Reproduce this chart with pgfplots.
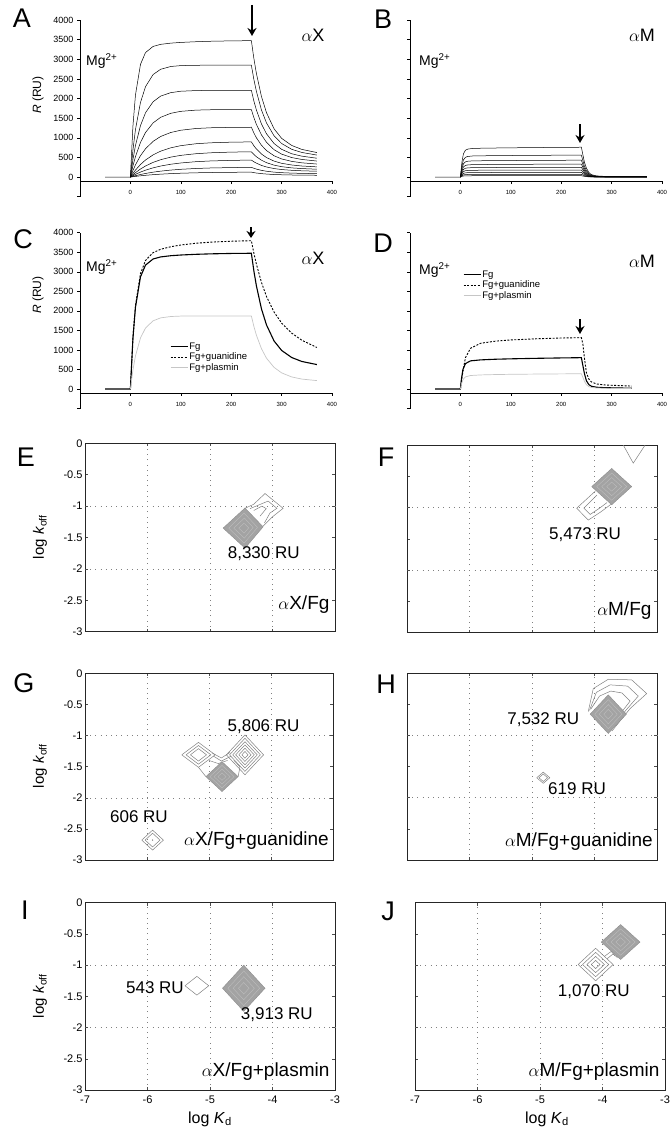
\documentclass[border=0pt]{standalone}
\usepackage{fontspec}
\setmainfont{Liberation Sans}
\usepackage{pgfplots}
\pgfplotsset{compat=1.18}
\usetikzlibrary{arrows.meta}
\newcommand{\fs}[1]{\fontsize{#1}{#1}\selectfont}

\pgfplotsset{
  kin/.style={scale only axis, width=252pt, xmin=-100, xmax=400, ymin=-100, ymax=4000,
    axis x line=bottom, axis y line=left, axis line style={-, line width=0.6pt},
    tick align=outside, major tick length=3pt, tick style={black, line width=0.5pt},
    xtick={0,100,...,400}, ytick={0,500,...,4000},
    x tick label style={font=\fs{6}, yshift=-3pt},
    y tick label style={font=\fs{9}},
    scaled ticks=false, /pgf/number format/1000 sep={},
    /pgf/number format/assume math mode=true, clip=false},
  thin/.style={black, line width=0.5pt},
  ctr/.style={scale only axis, width=250pt, xmin=-7, xmax=-3, ymin=-3, ymax=0,
    xtick={-7,-6,-5,-4,-3}, ytick={-3,-2.5,-2,-1.5,-1,-0.5,0},
    xmajorgrids, extra y ticks={-2,-1}, extra y tick labels={}, extra y tick style={grid=major},
    grid style={gray, line width=0.5pt, dash pattern=on 0.7pt off 4.5pt},
    tick align=inside, major tick length=3pt, tick style={black!70, line width=0.5pt},
    axis line style={line width=0.8pt, black!85},
    tick label style={font=\fs{11}}, xticklabel style={yshift=-2pt}, yticklabel style={xshift=1pt},
    /pgf/number format/assume math mode=true},
  opn/.style={gray, line width=0.5pt},
  gfill/.style={fill=gray!72, draw=gray!90, line width=0.4pt},
  ginner/.style={gray!50, line width=0.35pt},
}

\begin{document}
\begin{tikzpicture}
\useasboundingbox (0,0) rectangle (670pt,-1132pt);

% ---------- A ----------
\begin{axis}[kin, at={(80pt,-181pt)}, anchor=south west, height=161pt]
\addplot[thin] coordinates {(-50,0)(0,0)(5,1294)(10,2086)(20,2871)(30,3171)(45,3327)(60,3380)(80,3411)(100,3429)(130,3447)(160,3459)(200,3469)(240,3474)(245,3019)(250,2640)(260,2053)(270,1640)(285,1230)(300,987)(320,806)(340,705)(370,625)};
\addplot[thin] coordinates {(0,0)(5,684)(10,1206)(20,1901)(30,2303)(45,2611)(60,2745)(80,2816)(100,2839)(130,2847)(160,2850)(200,2850)(240,2850)(245,2485)(250,2183)(260,1710)(270,1379)(285,1052)(300,855)(320,707)(340,627)(370,561)};
\addplot[thin] coordinates {(0,0)(5,444)(10,800)(20,1311)(30,1638)(45,1918)(60,2062)(80,2150)(100,2186)(130,2203)(160,2208)(200,2210)(240,2210)(245,1936)(250,1708)(260,1353)(270,1103)(285,855)(300,707)(320,594)(340,533)(370,480)};
\addplot[thin] coordinates {(0,0)(5,284)(10,519)(20,882)(30,1135)(45,1379)(60,1522)(80,1624)(100,1674)(130,1705)(160,1715)(200,1718)(240,1720)(245,1514)(250,1342)(260,1075)(270,886)(285,698)(300,585)(320,497)(340,449)(370,408)};
\addplot[thin] coordinates {(0,0)(5,166)(10,310)(20,545)(30,721)(45,909)(60,1034)(80,1135)(100,1193)(130,1237)(160,1256)(200,1265)(240,1269)(245,1123)(250,1000)(260,811)(270,676)(285,543)(300,462)(320,400)(340,363)(370,332)};
\addplot[thin] coordinates {(0,0)(5,94)(10,177)(20,320)(30,435)(45,565)(60,660)(80,745)(100,800)(130,849)(160,873)(200,889)(240,896)(245,797)(250,715)(260,588)(270,497)(285,407)(300,351)(320,308)(340,282)(370,260)};
\addplot[thin] coordinates {(0,0)(5,59)(10,112)(20,205)(30,282)(45,374)(60,442)(80,508)(100,553)(130,595)(160,619)(200,636)(240,644)(245,576)(250,518)(260,430)(270,367)(285,304)(300,265)(320,234)(340,217)(370,200)};
\addplot[thin] coordinates {(0,0)(5,36)(10,69)(20,127)(30,176)(45,235)(60,281)(80,327)(100,359)(130,392)(160,411)(200,425)(240,433)(245,390)(250,354)(260,297)(270,257)(285,217)(300,192)(320,172)(340,160)(370,149)};
\addplot[thin] coordinates {(0,0)(5,18)(10,35)(20,66)(30,92)(45,125)(60,151)(80,178)(100,198)(130,219)(160,232)(200,242)(240,248)(245,224)(250,203)(260,171)(270,149)(285,126)(300,112)(320,101)(340,94)(370,87)};
\addplot[thin] coordinates {(0,0)(5,9)(10,17)(20,32)(30,45)(45,61)(60,74)(80,88)(100,98)(130,109)(160,116)(200,122)(240,125)(245,113)(250,103)(260,88)(270,77)(285,65)(300,59)(320,53)(340,49)(370,46)};
\end{axis}

% ---------- B ----------
\begin{axis}[kin, at={(410pt,-181pt)}, anchor=south west, height=161pt, yticklabels={}]
\addplot[thin] coordinates {(-50,0)(0,0)(3,380)(6,593)(10,684)(15,714)(25,730)(50,737)(100,745)(150,752)(200,756)(240,760)(243,570)(246,380)(250,228)(255,114)(260,61)(270,30)(285,19)(300,15)(370,11)};
\addplot[thin] coordinates {(0,0)(3,280)(6,437)(10,504)(15,526)(25,538)(50,543)(100,549)(150,554)(200,557)(240,560)(243,420)(246,280)(250,168)(255,84)(260,45)(270,22)(285,14)(300,11)(370,8)};
\addplot[thin] coordinates {(0,0)(3,215)(6,335)(10,387)(15,404)(25,413)(50,417)(100,421)(150,426)(200,428)(240,430)(243,323)(246,215)(250,129)(255,65)(260,34)(270,17)(285,11)(300,9)(370,6)};
\addplot[thin] coordinates {(0,0)(3,165)(6,257)(10,297)(15,310)(25,317)(50,320)(100,323)(150,327)(200,328)(240,330)(243,248)(246,165)(250,99)(255,50)(260,26)(270,13)(285,8)(300,7)(370,5)};
\addplot[thin] coordinates {(0,0)(3,125)(6,195)(10,225)(15,235)(25,240)(50,243)(100,245)(150,248)(200,249)(240,250)(243,188)(246,125)(250,75)(255,38)(260,20)(270,10)(285,6)(300,5)(370,4)};
\addplot[thin] coordinates {(0,0)(3,90)(6,140)(10,162)(15,169)(25,173)(50,175)(100,176)(150,178)(200,179)(240,180)(243,135)(246,90)(250,54)(255,27)(260,14)(270,7)(285,5)(300,4)(370,3)};
\addplot[thin] coordinates {(0,0)(3,60)(6,94)(10,108)(15,113)(25,115)(50,116)(100,118)(150,119)(200,119)(240,120)(243,90)(246,60)(250,36)(255,18)(260,10)(270,5)(285,3)(300,2)(370,2)};
\addplot[thin] coordinates {(0,0)(3,35)(6,55)(10,63)(15,66)(25,67)(50,68)(100,69)(150,69)(200,70)(240,70)(243,53)(246,35)(250,21)(255,11)(260,6)(270,3)(285,2)(300,1)(370,1)};
\addplot[thin] coordinates {(0,0)(3,18)(6,27)(10,32)(15,33)(25,34)(50,34)(100,34)(150,35)(200,35)(240,35)(243,26)(246,18)(250,11)(255,5)(260,3)(270,1)(285,1)(300,1)(370,1)};
\end{axis}

% ---------- C ----------
\begin{axis}[kin, at={(80pt,-392.9pt)}, anchor=south west, height=160.2pt,
  legend style={at={(0.357,0.32)}, anchor=north west, draw=none, fill=none,
    font=\fs{9.5}, row sep=0pt, inner sep=0pt, nodes={inner sep=1pt}},
  legend cell align=left]
\addplot[black, line width=1.1pt] coordinates {(-50,0)(0,0)(5,1294)(10,2086)(20,2871)(30,3171)(45,3327)(60,3380)(80,3411)(100,3429)(130,3447)(160,3459)(200,3469)(240,3474)(245,3019)(250,2640)(260,2053)(270,1640)(285,1230)(300,987)(320,806)(340,705)(370,625)};
\addlegendentry{Fg}
\addplot[black, line width=0.9pt, dash pattern=on 2pt off 1.5pt] coordinates {(0,0)(5,1317)(10,2132)(20,2956)(30,3291)(45,3489)(60,3576)(80,3641)(100,3685)(130,3730)(160,3759)(200,3782)(240,3795)(245,3476)(250,3195)(260,2729)(270,2368)(285,1970)(300,1689)(320,1431)(340,1249)(370,1063)};
\addlegendentry{Fg+guanidine}
\addplot[gray!45, line width=0.7pt] coordinates {(0,0)(5,484)(10,843)(20,1307)(30,1561)(45,1745)(60,1820)(80,1855)(100,1866)(130,1868)(160,1869)(200,1870)(240,1870)(245,1601)(250,1378)(260,1032)(270,789)(285,554)(300,413)(320,309)(340,254)(370,215)};
\addlegendentry{Fg+plasmin}
\end{axis}

% ---------- D ----------
\begin{axis}[kin, at={(410pt,-392.9pt)}, anchor=south west, height=160.2pt, yticklabels={},
  legend style={at={(0.21,0.77)}, anchor=north west, draw=none, fill=none,
    font=\fs{9.5}, row sep=0pt, inner sep=0pt, nodes={inner sep=1pt}},
  legend cell align=left]
\addplot[black, line width=1.1pt] coordinates {(-50,0)(0,0)(2,250)(5,500)(10,650)(20,720)(40,745)(70,762)(100,772)(150,785)(200,795)(240,802)(243,600)(246,400)(250,210)(255,110)(260,70)(270,45)(285,35)(300,30)(320,25)(340,20)};
\addlegendentry{Fg}
\addplot[black, line width=0.9pt, dash pattern=on 2pt off 1.5pt] coordinates {(0,0)(2,200)(5,450)(10,800)(20,1040)(40,1170)(70,1225)(100,1255)(150,1285)(200,1305)(240,1314)(243,1150)(246,800)(250,420)(255,250)(260,180)(270,130)(285,105)(300,95)(320,85)(340,75)};
\addlegendentry{Fg+guanidine}
\addplot[gray!45, line width=0.7pt] coordinates {(0,0)(2,120)(5,240)(10,310)(20,345)(40,360)(70,370)(100,376)(150,382)(200,387)(240,390)(243,300)(246,200)(250,110)(255,60)(260,40)(270,25)(285,20)(300,15)(320,12)(340,10)};
\addlegendentry{Fg+plasmin}
\end{axis}

% y axes of A-D run on below the time axis
\foreach \x/\y/\h in {80/181/15.7, 410/181/15.7, 80/392.9/15.6, 410/392.9/15.6}
  \draw[line width=0.6pt] (\x pt,-\y pt) -- (\x pt,-\y pt-\h pt) -- (\x pt-3pt,-\y pt-\h pt);

% ---------- E ----------
\begin{axis}[ctr, at={(85pt,-631.7pt)}, anchor=south west, height=188.4pt, xticklabels={}]
\addplot[opn] coordinates {(-4.45,-1.04)(-4.30,-0.97)(-4.12,-0.80)(-3.83,-1.035)(-4.00,-1.17)(-4.15,-1.32)};
\addplot[opn] coordinates {(-4.36,-1.04)(-4.07,-0.92)(-3.93,-1.035)(-4.04,-1.11)(-4.13,-1.27)};
\addplot[opn] coordinates {(-4.30,-1.07)(-4.17,-1.00)(-4.10,-1.04)(-4.20,-1.16)};
\addplot[gfill] coordinates {(-4.79,-1.35)(-4.44,-1.03)(-4.15,-1.33)(-4.44,-1.67)(-4.79,-1.35)};
\addplot[ginner] coordinates {(-4.70,-1.35)(-4.455,-1.11)(-4.24,-1.34)(-4.455,-1.59)(-4.70,-1.35)};
\addplot[ginner] coordinates {(-4.62,-1.35)(-4.45,-1.19)(-4.31,-1.34)(-4.45,-1.51)(-4.62,-1.35)};
\addplot[ginner] coordinates {(-4.54,-1.35)(-4.455,-1.27)(-4.38,-1.345)(-4.455,-1.43)(-4.54,-1.35)};
\node[font=\fs{17}] at (axis cs:-4.14,-1.75) {8,330 RU};
\node[font=\fs{19}, anchor=east, inner sep=1pt] at (axis cs:-3.07,-2.57) {$\alpha$X/Fg};
\end{axis}

% ---------- F ----------
\begin{axis}[ctr, at={(407pt,-632.7pt)}, anchor=south west, height=187.7pt, xticklabels={}, yticklabels={}]
\addplot[opn] coordinates {(-3.54,0)(-3.38,-0.29)(-3.19,0)};
\addplot[opn] coordinates {(-3.99,-0.74)(-4.285,-1.01)(-4.10,-1.20)(-3.90,-1.07)(-3.74,-0.95)};
\addplot[opn] coordinates {(-3.96,-0.80)(-4.17,-1.01)(-4.07,-1.11)(-3.92,-1.01)(-3.80,-0.92)};
\addplot[gfill] coordinates {(-4.045,-0.665)(-3.725,-0.375)(-3.405,-0.665)(-3.725,-0.955)(-4.045,-0.665)};
\addplot[ginner] coordinates {(-3.965,-0.665)(-3.725,-0.4475)(-3.485,-0.665)(-3.725,-0.8825)(-3.965,-0.665)};
\addplot[ginner] coordinates {(-3.885,-0.665)(-3.725,-0.52)(-3.565,-0.665)(-3.725,-0.81)(-3.885,-0.665)};
\addplot[ginner] coordinates {(-3.805,-0.665)(-3.725,-0.5925)(-3.645,-0.665)(-3.725,-0.7375)(-3.805,-0.665)};
\node[font=\fs{17}] at (axis cs:-4.15,-1.44) {5,473 RU};
\node[font=\fs{19}, anchor=east, inner sep=1pt] at (axis cs:-3.07,-2.65) {$\alpha$M/Fg};
\end{axis}

% ---------- G ----------
\begin{axis}[ctr, at={(85pt,-860pt)}, anchor=south west, width=248pt, height=186.7pt, xticklabels={}]
\addplot[opn] coordinates {(-5.44,-1.31)(-5.17,-1.11)(-4.90,-1.31)(-5.17,-1.51)(-5.44,-1.31)};
\addplot[opn] coordinates {(-5.37,-1.31)(-5.17,-1.16)(-4.97,-1.31)(-5.17,-1.46)(-5.37,-1.31)};
\addplot[opn] coordinates {(-5.30,-1.31)(-5.17,-1.21)(-5.04,-1.31)(-5.17,-1.41)(-5.30,-1.31)};
\addplot[opn] coordinates {(-4.72,-1.31)(-4.42,-0.99)(-4.12,-1.31)(-4.42,-1.63)(-4.72,-1.31)};
\addplot[opn] coordinates {(-4.669,-1.31)(-4.42,-1.044)(-4.171,-1.31)(-4.42,-1.576)(-4.669,-1.31)};
\addplot[opn] coordinates {(-4.618,-1.31)(-4.42,-1.099)(-4.222,-1.31)(-4.42,-1.521)(-4.618,-1.31)};
\addplot[opn] coordinates {(-4.57,-1.31)(-4.42,-1.15)(-4.27,-1.31)(-4.42,-1.47)(-4.57,-1.31)};
\addplot[opn] coordinates {(-4.519,-1.31)(-4.42,-1.204)(-4.321,-1.31)(-4.42,-1.416)(-4.519,-1.31)};
\addplot[opn] coordinates {(-4.47,-1.31)(-4.42,-1.256)(-4.37,-1.31)(-4.42,-1.364)(-4.47,-1.31)};
\addplot[opn] coordinates {(-4.95,-1.28)(-4.80,-1.36)(-4.66,-1.27)};
\addplot[opn] coordinates {(-4.93,-1.33)(-4.80,-1.41)(-4.64,-1.33)};
\addplot[opn] coordinates {(-5.00,-1.40)(-4.85,-1.45)(-4.70,-1.40)};
\addplot[opn] coordinates {(-5.17,-1.51)(-5.05,-1.66)};
\addplot[opn] coordinates {(-4.53,-1.66)(-4.50,-1.50)(-4.60,-1.40)};
\addplot[gfill] coordinates {(-5.05,-1.66)(-4.79,-1.42)(-4.53,-1.66)(-4.79,-1.90)(-5.05,-1.66)};
\addplot[ginner] coordinates {(-4.985,-1.66)(-4.79,-1.48)(-4.595,-1.66)(-4.79,-1.84)(-4.985,-1.66)};
\addplot[ginner] coordinates {(-4.92,-1.66)(-4.79,-1.54)(-4.66,-1.66)(-4.79,-1.78)(-4.92,-1.66)};
\addplot[ginner] coordinates {(-4.855,-1.66)(-4.79,-1.60)(-4.725,-1.66)(-4.79,-1.72)(-4.855,-1.66)};
\addplot[opn] coordinates {(-6.085,-2.68)(-5.91,-2.52)(-5.735,-2.68)(-5.91,-2.84)(-6.085,-2.68)};
\addplot[opn] coordinates {(-6.03,-2.68)(-5.91,-2.57)(-5.79,-2.68)(-5.91,-2.79)(-6.03,-2.68)};
\addplot[only marks, mark=*, mark size=0.4pt, gray] coordinates {(-5.91,-2.68)};
\node[font=\fs{17}] at (axis cs:-4.12,-0.86) {5,806 RU};
\node[font=\fs{17}] at (axis cs:-6.13,-2.31) {606 RU};
\node[font=\fs{19}, anchor=east, inner sep=1pt] at (axis cs:-3.05,-2.68) {$\alpha$X/Fg+guanidine};
\end{axis}

% ---------- H ----------
\begin{axis}[ctr, at={(407pt,-860pt)}, anchor=south west, height=187pt, xticklabels={}, yticklabels={}]
\addplot[opn] coordinates {(-4.10,-0.62)(-4.02,-0.25)(-3.78,-0.10)(-3.405,-0.11)(-3.165,-0.33)(-3.43,-0.57)(-3.72,-0.93)};
\addplot[opn] coordinates {(-4.08,-0.60)(-3.97,-0.31)(-3.75,-0.19)(-3.47,-0.21)(-3.30,-0.37)(-3.50,-0.60)(-3.73,-0.90)};
\addplot[opn] coordinates {(-4.06,-0.58)(-3.92,-0.37)(-3.74,-0.29)(-3.56,-0.32)(-3.43,-0.45)(-3.56,-0.62)(-3.75,-0.88)};
\addplot[gfill] coordinates {(-4.07,-0.66)(-3.78,-0.35)(-3.49,-0.66)(-3.78,-0.97)(-4.07,-0.66)};
\addplot[ginner] coordinates {(-3.9975,-0.66)(-3.78,-0.4275)(-3.5625,-0.66)(-3.78,-0.8925)(-3.9975,-0.66)};
\addplot[ginner] coordinates {(-3.925,-0.66)(-3.78,-0.505)(-3.635,-0.66)(-3.78,-0.815)(-3.925,-0.66)};
\addplot[ginner] coordinates {(-3.8525,-0.66)(-3.78,-0.5825)(-3.7075,-0.66)(-3.78,-0.7375)(-3.8525,-0.66)};
\addplot[opn] coordinates {(-4.925,-1.68)(-4.82,-1.59)(-4.715,-1.68)(-4.82,-1.77)(-4.925,-1.68)};
\addplot[opn] coordinates {(-4.89,-1.68)(-4.82,-1.62)(-4.75,-1.68)(-4.82,-1.74)(-4.89,-1.68)};
\node[font=\fs{17}] at (axis cs:-4.82,-0.75) {7,532 RU};
\node[font=\fs{17}, anchor=west, inner sep=1pt] at (axis cs:-4.76,-1.85) {619 RU};
\node[font=\fs{19}, anchor=east, inner sep=1pt] at (axis cs:-3.05,-2.70) {$\alpha$M/Fg+guanidine};
\end{axis}

% ---------- I ----------
\begin{axis}[ctr, at={(85pt,-1090pt)}, anchor=south west, height=187.3pt]
\addplot[gfill] coordinates {(-4.80,-1.37)(-4.46,-1.00)(-4.12,-1.37)(-4.46,-1.74)(-4.80,-1.37)};
\addplot[ginner] coordinates {(-4.715,-1.37)(-4.46,-1.0925)(-4.205,-1.37)(-4.46,-1.6475)(-4.715,-1.37)};
\addplot[ginner] coordinates {(-4.63,-1.37)(-4.46,-1.185)(-4.29,-1.37)(-4.46,-1.555)(-4.63,-1.37)};
\addplot[ginner] coordinates {(-4.545,-1.37)(-4.46,-1.2775)(-4.375,-1.37)(-4.46,-1.4625)(-4.545,-1.37)};
\addplot[opn] coordinates {(-5.40,-1.33)(-5.21,-1.18)(-5.02,-1.33)(-5.21,-1.48)(-5.40,-1.33)};
\node[font=\fs{17}, anchor=east, inner sep=1pt] at (axis cs:-5.40,-1.36) {543 RU};
\node[font=\fs{17}] at (axis cs:-3.93,-1.80) {3,913 RU};
\node[font=\fs{19}, anchor=east, inner sep=1pt] at (axis cs:-3.07,-2.71) {$\alpha$X/Fg+plasmin};
\end{axis}

% ---------- J ----------
\begin{axis}[ctr, at={(415pt,-1090pt)}, anchor=south west, height=187.3pt, yticklabels={}]
\addplot[opn] coordinates {(-4.39,-0.99)(-4.11,-0.73)(-3.83,-0.99)(-4.11,-1.25)(-4.39,-0.99)};
\addplot[opn] coordinates {(-4.32,-0.99)(-4.11,-0.795)(-3.90,-0.99)(-4.11,-1.185)(-4.32,-0.99)};
\addplot[opn] coordinates {(-4.25,-0.99)(-4.11,-0.86)(-3.97,-0.99)(-4.11,-1.12)(-4.25,-0.99)};
\addplot[opn] coordinates {(-4.18,-0.99)(-4.11,-0.925)(-4.04,-0.99)(-4.11,-1.055)(-4.18,-0.99)};
\addplot[opn] coordinates {(-3.97,-0.86)(-3.86,-0.78)(-3.80,-0.85)};
\addplot[opn] coordinates {(-3.93,-0.90)(-3.83,-0.82)(-3.76,-0.88)};
\addplot[gfill] coordinates {(-4.02,-0.63)(-3.71,-0.35)(-3.40,-0.63)(-3.71,-0.91)(-4.02,-0.63)};
\addplot[ginner] coordinates {(-3.9425,-0.63)(-3.71,-0.42)(-3.4775,-0.63)(-3.71,-0.84)(-3.9425,-0.63)};
\addplot[ginner] coordinates {(-3.865,-0.63)(-3.71,-0.49)(-3.555,-0.63)(-3.71,-0.77)(-3.865,-0.63)};
\addplot[ginner] coordinates {(-3.7875,-0.63)(-3.71,-0.56)(-3.6325,-0.63)(-3.71,-0.70)(-3.7875,-0.63)};
\node[font=\fs{17}] at (axis cs:-4.14,-1.43) {1,070 RU};
\node[font=\fs{19}, anchor=east, inner sep=1pt] at (axis cs:-3.07,-2.70) {$\alpha$M/Fg+plasmin};
\end{axis}

% ---------- panel letters and annotations ----------
\foreach \l/\x/\y in {A/22/18, B/383/19, C/23/239, D/383/243, E/26/457, F/386/457, G/24/683, H/386/684, I/25/910, J/388/911}
  \node[font=\fs{27}] at (\x pt,-\y pt) {\l};

\node[font=\fs{18}] at (313pt,-35pt) {$\alpha$X};
\node[font=\fs{18}] at (642pt,-35pt) {$\alpha$M};
\node[font=\fs{18}] at (313pt,-258pt) {$\alpha$X};
\node[font=\fs{18}] at (642pt,-261pt) {$\alpha$M};
\node[font=\fs{14}, anchor=west, inner sep=0pt] at (86pt,-61pt) {Mg\textsuperscript{2+}};
\node[font=\fs{14}, anchor=west, inner sep=0pt] at (419pt,-61pt) {Mg\textsuperscript{2+}};
\node[font=\fs{14}, anchor=west, inner sep=0pt] at (86pt,-267pt) {Mg\textsuperscript{2+}};
\node[font=\fs{14}, anchor=west, inner sep=0pt] at (419pt,-270pt) {Mg\textsuperscript{2+}};
\node[font=\fs{12}, rotate=90] at (38pt,-95pt) {\textit{R} (RU)};
\node[font=\fs{12}, rotate=90] at (38pt,-295pt) {\textit{R} (RU)};

\draw[line width=2pt, -{Stealth[length=8pt,width=9pt]}] (252pt,-5pt) -- (252pt,-36pt);
\draw[line width=2pt, -{Stealth[length=8pt,width=9pt]}] (580pt,-124pt) -- (580pt,-143pt);
\draw[line width=2pt, -{Stealth[length=7pt,width=9pt]}] (251pt,-227pt) -- (251pt,-238pt);
\draw[line width=2pt, -{Stealth[length=8pt,width=9pt]}] (580pt,-319pt) -- (580pt,-334pt);

\node[font=\fs{15}, rotate=90] at (40pt,-537pt) {log \textit{k}\textsubscript{off}};
\node[font=\fs{15}, rotate=90] at (40pt,-766pt) {log \textit{k}\textsubscript{off}};
\node[font=\fs{15}, rotate=90] at (40pt,-996pt) {log \textit{k}\textsubscript{off}};
\node[font=\fs{16}] at (210pt,-1119pt) {log \textit{K}\textsubscript{d}};
\node[font=\fs{16}] at (547pt,-1119pt) {log \textit{K}\textsubscript{d}};
\end{tikzpicture}
\end{document}
